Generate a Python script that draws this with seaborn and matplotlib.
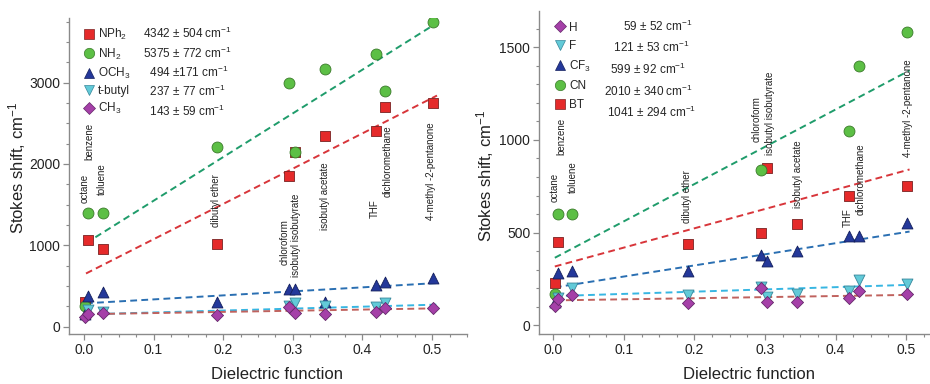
import numpy as np
import seaborn as sns
import matplotlib.pyplot as plt
from matplotlib.lines import Line2D

# solvents and their dielectric function
solvents = ["octane", "benzene", "toluene", "dibutyl ether", "chloroform",
            "isobutyl isobutyrate", "isobutyl acetate", "THF",
            "dichloromethane", "4-methyl -2-pentanone"]
df_x = [0.002, 0.006, 0.027, 0.191, 0.295, 0.303, 0.346, 0.419, 0.433, 0.501]
nan = np.nan

# left panel, Stokes shift (cm-1)
nph2  = [300, 1065, 950, 1016, 1850, 2150, 2340, 2410, 2705, 2747]
nh2   = [250, 1400, 1400, 2213, 3000, 2150, 3170, 3353, 2902, 3750]
och3  = [150, 376, 426, 302, 459, 459, 306, 515, 551, 602]
tbut  = [nan, 200, 185, nan, 255, 287, 250, 245, 290, nan]
ch3   = [114, 158, 171, 142, 245, 163, 153, 184, 225, 225]
left_names  = ["NPh$_2$", "NH$_2$", "OCH$_3$", "t-butyl", "CH$_3$"]
left_vals   = ["4342 ± 504 cm$^{-1}$", "5375 ± 772 cm$^{-1}$", "  494 ±171 cm$^{-1}$",
               "  237 ± 77 cm$^{-1}$", "  143 ± 59 cm$^{-1}$"]
left_icpt   = [640, 1010, 285, 150, 152]
left_slope  = [4342, 5375, 494, 237, 143]

# right panel
h_    = [104, 140, 164, 122, 200, 124, 128, 146, 187, 168]
f_    = [nan, 146, 200, 164, 209, 151, 167, 185, 245, 222]
cf3   = [126, 284, 292, 295, 380, 349, 403, 479, 483, 551]
cn    = [171, 599, 599, nan, 840, nan, nan, 1050, 1398, 1582]
bt    = [230, 449, nan, 438, 500, 850, 549, 699, nan, 749]
right_names = ["H", "F", "CF$_3$", "CN", "BT"]
right_vals  = ["      59 ± 52 cm$^{-1}$", "   121 ± 53 cm$^{-1}$", "  599 ± 92 cm$^{-1}$",
               "2010 ± 340 cm$^{-1}$", " 1041 ± 294 cm$^{-1}$"]
right_icpt  = [134, 157, 203, 360, 315]
right_slope = [59, 121, 599, 2010, 1041]

# solvent label placement (bottom of rotated text, data units)
left_lab_x  = [0.0015, 0.0086, 0.026, 0.19, 0.288, 0.305, 0.346, 0.418, 0.436, 0.499]
left_lab_y  = [1520, 2049, 1619, 1225, 758, 610, 1188, 1336, 1594, 1311]
right_lab_x = [0.0024, 0.012, 0.028, 0.189, 0.288, 0.307, 0.347, 0.4175, 0.436, 0.5025]
right_lab_y = [665, 918, 715, 550, 989, 918, 631, 530, 595, 908]

# styles
st_sq  = dict(marker='s', color='#e52a2a', ec='#7a2222', s=52)
st_ci  = dict(marker='o', color='#5cbf45', ec='#3a7a2a', s=62)
st_up  = dict(marker='^', color='#24389a', ec='#141f5c', s=62)
st_dn  = dict(marker='v', color='#62cad8', ec='#36869a', s=62)
st_di  = dict(marker='D', color='#a540a8', ec='#65286a', s=38)
lc_red, lc_grn, lc_blu, lc_cya, lc_brn = '#d8353a', '#1f9c6b', '#2a6fb2', '#37b6e2', '#c0625e'

sns.set_style('ticks')
plt.rcParams['font.family'] = ['Liberation Sans', 'DejaVu Sans']
plt.rcParams['mathtext.fontset'] = 'custom'
plt.rcParams['mathtext.rm'] = 'Liberation Sans'
plt.rcParams['mathtext.it'] = 'Liberation Sans'
plt.rcParams['mathtext.bf'] = 'Liberation Sans:bold'

fig = plt.figure(figsize=(9.3, 3.84), dpi=100)
axL = fig.add_axes([0.0745, 0.1294, 0.4276, 0.823])
axR = fig.add_axes([0.5799, 0.1294, 0.4201, 0.842])


def draw(ax, series, styles, lcols, icpt, slope, xr):
    for b, k, c in zip(icpt, slope, lcols):
        xs = np.array(xr)
        ax.plot(xs, b + k * xs, ls=(0, (3.5, 2.2)), lw=1.4, color=c, zorder=2)
    for y, st in zip(series, styles):
        sns.scatterplot(x=df_x, y=y, ax=ax, marker=st['marker'], color=st['color'],
                        edgecolor=st['ec'], s=st['s'], linewidth=0.6, zorder=3, legend=False)


def style_axes(ax, ylim, ymajor, yminor, xlim):
    ax.set_xlim(*xlim)
    ax.set_ylim(*ylim)
    ax.set_xticks(np.arange(0, 0.51, 0.1))
    ax.set_xticks(np.arange(0, xlim[1] + 0.001, 0.025), minor=True)
    ax.set_yticks(np.arange(0, ylim[1], ymajor))
    ax.set_yticks(np.arange(0, ylim[1], yminor), minor=True)
    ax.set_xticklabels([f'{v:.1f}' for v in np.arange(0, 0.51, 0.1)])
    sns.despine(ax=ax)
    for sp in ['left', 'bottom']:
        ax.spines[sp].set_color('#8a8a8a')
        ax.spines[sp].set_linewidth(1.0)
    ax.tick_params(which='major', length=4.5, width=0.9, color='#8a8a8a', labelsize=10,
                   labelcolor='#222222', pad=2)
    ax.tick_params(which='minor', length=2.2, width=0.8, color='#8a8a8a')
    ax.set_xlabel('Dielectric function', fontsize=12, color='#222222')
    ax.set_ylabel('Stokes shift, cm$^{-1}$', fontsize=12, color='#222222')


def legend(ax, names, vals, styles, anchor, spacing):
    hs = [Line2D([], [], ls='none', marker=st['marker'], markerfacecolor=st['color'],
                 markeredgecolor=st['ec'], markeredgewidth=0.5,
                 markersize=np.sqrt(st['s']) * 0.95) for st in styles]
    blank = [Line2D([], [], ls='none') for _ in vals]
    ax.legend(hs + blank, names + vals, ncol=2, loc='upper left', bbox_to_anchor=anchor,
              frameon=False, fontsize=8.5, handlelength=0.7, handletextpad=0.45,
              columnspacing=-0.1, labelspacing=spacing, borderpad=0, borderaxespad=0)


def labels(ax, xs, ys):
    for s, x, y in zip(solvents, xs, ys):
        ax.text(x, y, s, rotation=90, ha='center', va='bottom', fontsize=7,
                color='#222222', rotation_mode='default')


# left panel
draw(axL, [nph2, nh2, och3, tbut, ch3], [st_sq, st_ci, st_up, st_dn, st_di],
     [lc_red, lc_grn, lc_blu, lc_cya, lc_brn], left_icpt, left_slope, [0.003, 0.507])
style_axes(axL, (-95, 3792), 1000, 250, (-0.021, 0.55))
labels(axL, left_lab_x, left_lab_y)
legend(axL, left_names, left_vals, [st_sq, st_ci, st_up, st_dn, st_di], (0.038, 0.976), 0.36)
axL.xaxis.set_label_coords(0.522, -0.105)
axL.yaxis.set_label_coords(-0.105, 0.526)

# right panel
draw(axR, [bt, cn, cf3, f_, h_], [st_sq, st_ci, st_up, st_dn, st_di],
     [lc_brn, lc_cya, lc_blu, lc_grn, lc_red], right_icpt, right_slope, [0.002, 0.505])
style_axes(axR, (-49, 1696), 500, 100, (-0.02, 0.534))
labels(axR, right_lab_x, right_lab_y)
legend(axR, right_names, right_vals, [st_di, st_dn, st_up, st_ci, st_sq], (0.042, 0.977), 0.55)
axR.xaxis.set_label_coords(0.5375, -0.102)
axR.yaxis.set_label_coords(-0.11, 0.49)

plt.savefig('out.png', dpi=100)
